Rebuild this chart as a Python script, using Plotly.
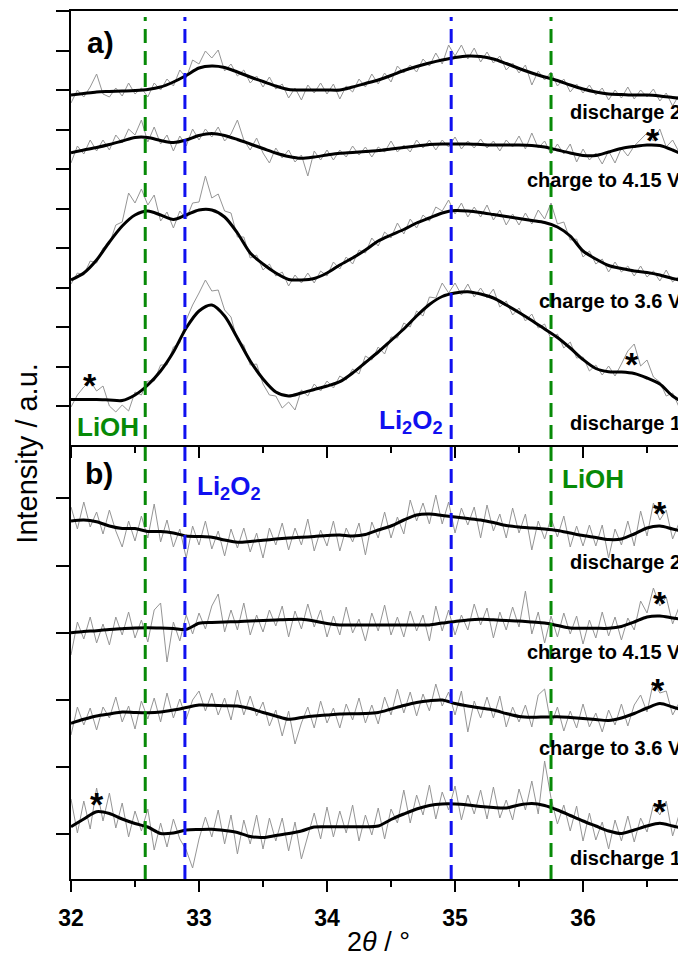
import plotly.graph_objects as go

# ---------------- data ----------------
# 2theta grid of the raw (grey) patterns and of the smoothed (black) curves
two_theta_raw = [32.00, 32.05, 32.10, 32.15, 32.20, 32.25, 32.30, 32.35, 32.40, 32.45,
                 32.50, 32.55, 32.60, 32.65, 32.70, 32.75, 32.80, 32.85, 32.90, 32.95,
                 33.00, 33.05, 33.10, 33.15, 33.20, 33.25, 33.30, 33.35, 33.40, 33.45,
                 33.50, 33.55, 33.60, 33.65, 33.70, 33.75, 33.80, 33.85, 33.90, 33.95,
                 34.00, 34.05, 34.10, 34.15, 34.20, 34.25, 34.30, 34.35, 34.40, 34.45,
                 34.50, 34.55, 34.60, 34.65, 34.70, 34.75, 34.80, 34.85, 34.90, 34.95,
                 35.00, 35.05, 35.10, 35.15, 35.20, 35.25, 35.30, 35.35, 35.40, 35.45,
                 35.50, 35.55, 35.60, 35.65, 35.70, 35.75, 35.80, 35.85, 35.90, 35.95,
                 36.00, 36.05, 36.10, 36.15, 36.20, 36.25, 36.30, 36.35, 36.40, 36.45,
                 36.50, 36.55, 36.60, 36.65, 36.70, 36.75]
two_theta_fit = [32.0, 32.1, 32.2, 32.3, 32.4, 32.5, 32.6, 32.7, 32.8, 32.9,
                 33.0, 33.1, 33.2, 33.3, 33.4, 33.5, 33.6, 33.7, 33.8, 33.9,
                 34.0, 34.1, 34.2, 34.3, 34.4, 34.5, 34.6, 34.7, 34.8, 34.9,
                 35.0, 35.1, 35.2, 35.3, 35.4, 35.5, 35.6, 35.7, 35.8, 35.9,
                 36.0, 36.1, 36.2, 36.3, 36.4, 36.5, 36.6, 36.7, 36.8]

# ---- panel a (offset intensities, a.u.) ----
a_raw_discharge2 = [342, 355, 348, 358, 371, 351, 348, 357, 349, 362,
                    351, 357, 348, 362, 355, 366, 359, 375, 367, 385,
                    381, 394, 387, 395, 374, 381, 369, 375, 362, 369,
                    358, 368, 356, 361, 347, 357, 345, 360, 352, 362,
                    351, 361, 346, 359, 353, 366, 358, 371, 361, 372,
                    363, 379, 372, 380, 373, 386, 379, 392, 381, 400,
                    389, 400, 386, 397, 383, 393, 382, 389, 375, 382,
                    372, 380, 360, 374, 365, 373, 359, 366, 353, 361,
                    352, 360, 350, 357, 345, 355, 347, 358, 346, 355,
                    348, 356, 344, 352, 339, 350]
a_fit_discharge2 = [350, 351.5, 353, 353.5, 354, 354.5, 355.5, 358, 363, 369.5,
                    377, 379, 377.5, 373, 368, 363.5, 359, 355.5, 355, 355,
                    355, 355, 358, 361.5, 365, 369.5, 374.5, 378.5, 382, 385,
                    387.5, 389, 388.5, 386, 381.5, 376.5, 372, 368, 364.5, 360,
                    356, 353, 351, 350.5, 350, 350, 349, 347.5, 346]

a_raw_charge415 = [282, 299, 291, 305, 294, 305, 295, 310, 302, 316,
                   310, 325, 303, 318, 301, 310, 294, 309, 299, 316,
                   305, 316, 308, 318, 304, 311, 325, 305, 295, 307,
                   292, 282, 297, 287, 295, 283, 290, 269, 294, 285,
                   295, 285, 295, 288, 299, 290, 298, 288, 298, 293,
                   304, 293, 300, 293, 305, 297, 305, 295, 305, 298,
                   308, 296, 304, 297, 306, 297, 304, 294, 305, 298,
                   309, 296, 312, 297, 304, 291, 301, 291, 301, 283,
                   296, 285, 292, 281, 294, 282, 297, 289, 299, 305,
                   312, 304, 316, 298, 305, 293]
a_fit_charge415 = [292.3, 295, 297.5, 300.5, 304, 307.5, 307.5, 304.5, 302.5, 305,
                   309.5, 311.5, 309.5, 305.5, 301, 296.5, 292, 288.5, 286.7, 288,
                   290, 291.7, 292.5, 293.5, 294.5, 296, 297.5, 299, 300.5, 301,
                   301, 301, 300.5, 300, 300, 300, 299.5, 298, 295, 292,
                   289.5, 289.5, 293, 296.5, 298.5, 300, 299.5, 295, 289]

a_raw_charge36 = [161, 172, 170, 184, 182, 197, 201, 220, 223, 252,
                  242, 256, 240, 250, 224, 233, 217, 234, 226, 242,
                  243, 269, 247, 251, 234, 232, 208, 208, 187, 190,
                  175, 181, 169, 173, 159, 170, 162, 172, 162, 174,
                  169, 183, 176, 188, 181, 195, 192, 207, 199, 213,
                  207, 222, 211, 226, 217, 230, 224, 238, 234, 245,
                  231, 242, 228, 238, 228, 240, 225, 235, 220, 231,
                  220, 232, 221, 235, 226, 242, 221, 223, 205, 206,
                  188, 194, 181, 186, 173, 183, 173, 179, 169, 179,
                  168, 174, 164, 175, 163, 169]
a_fit_charge36 = [165, 172, 185, 203, 219, 230, 234, 230, 225.5, 230,
                  235, 235, 228, 212, 192, 181, 172, 165.5, 165, 166.5,
                  172, 180, 187, 195, 204, 210, 215.5, 222, 227, 232,
                  234.5, 234, 232.5, 230.5, 228.5, 226.5, 224.5, 222.5, 218, 209,
                  194, 186, 179.5, 176.5, 174, 172.5, 170, 166.5, 164]

a_raw_discharge1 = [38, 50, 58, 64, 54, 59, 39, 33, 40, 34,
                    53, 50, 64, 64, 80, 80, 98, 102, 125, 140,
                    152, 165, 154, 155, 135, 128, 104, 100, 80, 81,
                    61, 50, 49, 37, 43, 35, 55, 49, 61, 54,
                    64, 57, 69, 65, 76, 71, 89, 85, 98, 91,
                    108, 107, 122, 118, 134, 129, 148, 147, 162, 152,
                    162, 150, 161, 148, 157, 147, 156, 138, 144, 130,
                    137, 124, 131, 117, 121, 106, 111, 97, 103, 87,
                    88, 74, 80, 70, 79, 69, 81, 94, 101, 79,
                    85, 68, 63, 49, 52, 38]
a_fit_discharge1 = [45.5, 45.5, 45.5, 45, 44.5, 50, 60, 74, 93, 117,
                    134, 140, 129, 107, 84, 66, 53, 49, 52, 55.5,
                    59, 63.3, 72, 82.5, 93, 104.5, 116, 129, 140.5, 148.5,
                    152, 153.3, 151, 147, 140, 132.5, 124.5, 116, 107.5, 97,
                    85.5, 76.5, 73.3, 73, 71.5, 67, 61, 49, 41]

# ---- panel b ----
b_raw_discharge2 = [372, 350, 377, 352, 367, 345, 369, 348, 332, 358,
                    338, 363, 341, 375, 337, 359, 332, 350, 321, 353,
                    334, 358, 330, 348, 323, 350, 331, 351, 327, 346,
                    321, 351, 334, 356, 329, 351, 334, 360, 328, 349,
                    333, 358, 328, 351, 337, 356, 324, 357, 341, 367,
                    341, 362, 345, 379, 358, 376, 355, 384, 355, 377,
                    346, 371, 354, 372, 341, 374, 348, 365, 341, 371,
                    346, 365, 329, 358, 340, 361, 342, 363, 332, 353,
                    333, 354, 333, 354, 321, 350, 334, 358, 333, 368,
                    343, 376, 359, 369, 340, 356]
b_fit_discharge2 = [358, 359, 357.3, 353, 350.5, 350.5, 347.5, 347.5, 346, 343,
                    342.5, 341.7, 339, 336.7, 337.5, 338.7, 340, 341, 341.7, 342.5,
                    343.5, 344, 343, 344.5, 349, 353, 359, 364, 365, 363.5,
                    362, 360.5, 359, 356.5, 353.5, 352, 351, 350, 348.5, 346,
                    343.5, 341.5, 339.5, 340, 345, 351, 353, 350, 347]

b_raw_charge415 = [224, 257, 240, 262, 236, 255, 234, 262, 244, 267,
                   241, 259, 237, 269, 276, 217, 257, 238, 264, 245,
                   266, 250, 273, 285, 247, 269, 249, 276, 244, 264,
                   247, 269, 253, 273, 242, 268, 250, 275, 252, 269,
                   242, 263, 244, 272, 246, 260, 238, 266, 248, 274,
                   244, 262, 242, 268, 248, 264, 238, 273, 248, 269,
                   244, 264, 249, 275, 254, 271, 241, 267, 249, 272,
                   252, 288, 245, 267, 236, 263, 242, 266, 245, 263,
                   235, 259, 241, 267, 243, 262, 239, 261, 249, 278,
                   266, 291, 273, 282, 255, 272]
b_fit_charge415 = [246.3, 247.5, 248.3, 249.5, 250.3, 251, 251.3, 251, 250.5, 249.7,
                   255.7, 256.5, 257, 257.3, 258, 258.5, 259, 259.5, 259.7, 258,
                   255.5, 254, 254, 254, 254, 254, 254, 254, 254, 256,
                   257.5, 259, 259.7, 259.2, 258.5, 258, 257, 256, 253.5, 251,
                   250.7, 250.7, 250.7, 252.5, 257, 262, 263, 261, 259]

b_raw_charge36 = [144, 172, 154, 171, 149, 172, 161, 182, 157, 173,
                  150, 178, 160, 181, 157, 186, 161, 180, 160, 179,
                  188, 168, 186, 164, 181, 159, 189, 164, 183, 163,
                  177, 153, 169, 143, 168, 135, 156, 172, 151, 178,
                  156, 171, 151, 175, 159, 181, 156, 174, 155, 182,
                  164, 190, 166, 187, 163, 185, 168, 195, 173, 187,
                  164, 188, 147, 178, 161, 182, 161, 183, 152, 172,
                  157, 174, 152, 184, 190, 154, 172, 148, 168, 151,
                  175, 152, 166, 147, 169, 154, 175, 153, 174, 184,
                  167, 197, 186, 188, 164, 176]
b_fit_charge36 = [155.7, 159.7, 163, 165, 167, 166.5, 166.3, 167, 169, 171.5,
                  174, 173.7, 173.3, 173, 170.5, 166.5, 163, 159.7, 161.5, 163,
                  164, 165, 165.3, 165.5, 166.5, 170, 173.5, 176.5, 178.3, 179,
                  175.5, 173, 171, 169, 165.5, 162.5, 161.7, 162, 162.3, 161.5,
                  160.5, 159.5, 158.5, 161, 165.5, 171, 175.5, 172, 168]

b_raw_discharge1 = [80, 46, 78, 50, 91, 58, 86, 51, 76, 42,
                    68, 48, 70, 29, 56, 32, 60, 40, 29, 11,
                    40, 62, 42, 69, 35, 64, 25, 59, 35, 64,
                    30, 61, 38, 61, 28, 57, 20, 42, 66, 40,
                    72, 42, 68, 46, 74, 38, 64, 44, 71, 40,
                    70, 56, 89, 56, 84, 64, 94, 60, 87, 69,
                    93, 59, 84, 65, 89, 60, 92, 61, 79, 59,
                    90, 69, 98, 65, 118, 81, 55, 74, 48, 73,
                    38, 66, 39, 57, 30, 59, 38, 63, 37, 61,
                    47, 74, 64, 78, 43, 64]
b_fit_discharge1 = [52.3, 60, 67.3, 65.5, 60, 55.5, 52, 45.5, 46, 49,
                    49.5, 49.7, 48.5, 46.5, 42.5, 41.5, 43.5, 45.5, 48, 52,
                    52.3, 52.3, 52.3, 52.3, 53, 59.5, 65, 70, 73.5, 75,
                    75, 74, 72.5, 71.5, 71, 74, 75.5, 73.5, 69, 63.5,
                    58, 53, 48, 45.5, 49, 53, 55.7, 53, 50]

# reference reflection positions (deg 2theta)
lioh_positions = [32.58, 35.75]
li2o2_positions = [32.89, 34.97]

# curve labels and asterisk positions (x in deg, y in the panel's a.u.)
curve_labels_a = [("discharge 2", 35.883, 333), ("charge to 4.15 V", 35.547, 265),
                  ("charge to 3.6 V", 35.641, 144), ("discharge 1", 35.883, 22)]
curve_labels_b = [("discharge 2", 35.883, 317), ("charge to 4.15 V", 35.547, 227),
                  ("charge to 3.6 V", 35.641, 131), ("discharge 1", 35.883, 21)]
stars_a = [(36.547, 305), (36.380, 81), (32.148, 60)]
stars_b = [(36.602, 366), (36.602, 276), (36.586, 189), (32.200, 75), (36.602, 68)]

FONT = "Arial, 'Liberation Sans', sans-serif"
GREEN = "#078a07"
BLUE = "#1010f0"
GREY = "#959595"

fig = go.Figure()

panel_a = [(a_raw_discharge2, a_fit_discharge2), (a_raw_charge415, a_fit_charge415),
           (a_raw_charge36, a_fit_charge36), (a_raw_discharge1, a_fit_discharge1)]
panel_b = [(b_raw_discharge2, b_fit_discharge2), (b_raw_charge415, b_fit_charge415),
           (b_raw_charge36, b_fit_charge36), (b_raw_discharge1, b_fit_discharge1)]

for raw, fit in panel_a:
    fig.add_trace(go.Scatter(x=two_theta_raw, y=raw, mode="lines", xaxis="x2", yaxis="y2",
                             line=dict(color=GREY, width=1)))
    fig.add_trace(go.Scatter(x=two_theta_fit, y=fit, mode="lines", xaxis="x2", yaxis="y2",
                             line=dict(color="black", width=3, shape="spline", smoothing=0.8)))
for raw, fit in panel_b:
    fig.add_trace(go.Scatter(x=two_theta_raw, y=raw, mode="lines", xaxis="x", yaxis="y",
                             line=dict(color=GREY, width=1)))
    fig.add_trace(go.Scatter(x=two_theta_fit, y=fit, mode="lines", xaxis="x", yaxis="y",
                             line=dict(color="black", width=3, shape="spline", smoothing=0.8)))

# dashed reference lines spanning both panels
for xv in lioh_positions:
    fig.add_shape(type="line", xref="x", yref="paper", x0=xv, x1=xv, y0=0, y1=0.993,
                  line=dict(color=GREEN, width=3, dash="14px,8px"))
for xv in li2o2_positions:
    fig.add_shape(type="line", xref="x", yref="paper", x0=xv, x1=xv, y0=0, y1=0.993,
                  line=dict(color=BLUE, width=3, dash="14px,8px"))

ann = []
for text, xv, yv in curve_labels_a:
    ann.append(dict(text=text, x=xv, y=yv, xref="x2", yref="y2", xanchor="left", yanchor="middle",
                    showarrow=False, font=dict(size=20, family=FONT, color="black", weight="bold")))
for text, xv, yv in curve_labels_b:
    ann.append(dict(text=text, x=xv, y=yv, xref="x", yref="y", xanchor="left", yanchor="middle",
                    showarrow=False, font=dict(size=20, family=FONT, color="black", weight="bold")))
for xv, yv in stars_a:
    ann.append(dict(text="*", x=xv, y=yv, xref="x2", yref="y2", xanchor="center", yanchor="middle",
                    showarrow=False, font=dict(size=34, family=FONT, color="black", weight="bold")))
for xv, yv in stars_b:
    ann.append(dict(text="*", x=xv, y=yv, xref="x", yref="y", xanchor="center", yanchor="middle",
                    showarrow=False, font=dict(size=34, family=FONT, color="black", weight="bold")))

# panel letters and phase labels
ann += [
    dict(text="a)", x=32.11, y=403, xref="x2", yref="y2", xanchor="left", yanchor="middle",
         showarrow=False, font=dict(size=30, family=FONT, color="black", weight="bold")),
    dict(text="b)", x=32.094, y=406, xref="x", yref="y", xanchor="left", yanchor="middle",
         showarrow=False, font=dict(size=30, family=FONT, color="black", weight="bold")),
    dict(text="LiOH", x=32.031, y=18, xref="x2", yref="y2", xanchor="left", yanchor="middle",
         showarrow=False, font=dict(size=26, family=FONT, color=GREEN, weight="bold")),
    dict(text="Li<sub>2</sub>O<sub>2</sub>", x=34.388, y=24, xref="x2", yref="y2",
         xanchor="left", yanchor="middle",
         showarrow=False, font=dict(size=26, family=FONT, color=BLUE, weight="bold")),
    dict(text="Li<sub>2</sub>O<sub>2</sub>", x=32.969, y=392, xref="x", yref="y",
         xanchor="left", yanchor="middle",
         showarrow=False, font=dict(size=26, family=FONT, color=BLUE, weight="bold")),
    dict(text="LiOH", x=35.82, y=400, xref="x", yref="y", xanchor="left", yanchor="middle",
         showarrow=False, font=dict(size=26, family=FONT, color=GREEN, weight="bold")),
    # axis titles
    dict(text="Intensity / a.u.", x=-0.073, y=0.4908, xref="paper", yref="paper",
         xanchor="center", yanchor="middle", textangle=-90, showarrow=False,
         font=dict(size=29, family=FONT, color="black")),
    dict(text="2<i>θ</i> / °", x=0.5058, y=-0.0726, xref="paper", yref="paper",
         xanchor="center", yanchor="middle", showarrow=False,
         font=dict(size=27, family=FONT, color="black")),
]

axis_common = dict(showline=True, linewidth=2, linecolor="black", showgrid=False, zeroline=False,
                   ticks="outside", tickwidth=2, tickcolor="black")

fig.update_layout(
    width=678, height=959,
    margin=dict(l=71, r=0, t=11, b=80),
    plot_bgcolor="white", paper_bgcolor="white",
    showlegend=False,
    font=dict(family=FONT, color="black"),
    xaxis=dict(**axis_common, domain=[0, 1], range=[32, 36.742], anchor="y",
               ticklen=11, tick0=32, dtick=1,
               tickfont=dict(size=23, family=FONT, color="black", weight="bold"),
               ticklabelstandoff=6,
               minor=dict(ticks="outside", ticklen=6, tickwidth=2, tickcolor="black",
                          tick0=32, dtick=0.5, showgrid=False)),
    xaxis2=dict(**axis_common, domain=[0, 1], range=[32, 36.742], anchor="y2", mirror=True,
                ticklen=11, tick0=32, dtick=1, showticklabels=False,
                minor=dict(ticks="outside", ticklen=6, tickwidth=2, tickcolor="black",
                           tick0=32, dtick=0.5, showgrid=False)),
    yaxis=dict(**axis_common, domain=[0, 0.5], range=[0, 434], anchor="x",
               ticklen=13, tick0=44.7, dtick=67.2, showticklabels=False),
    yaxis2=dict(**axis_common, domain=[0.5, 1], range=[0, 434], anchor="x2",
                ticklen=13, tick0=39, dtick=39.5, showticklabels=False),
    annotations=ann,
)

fig.write_html("out.html")
